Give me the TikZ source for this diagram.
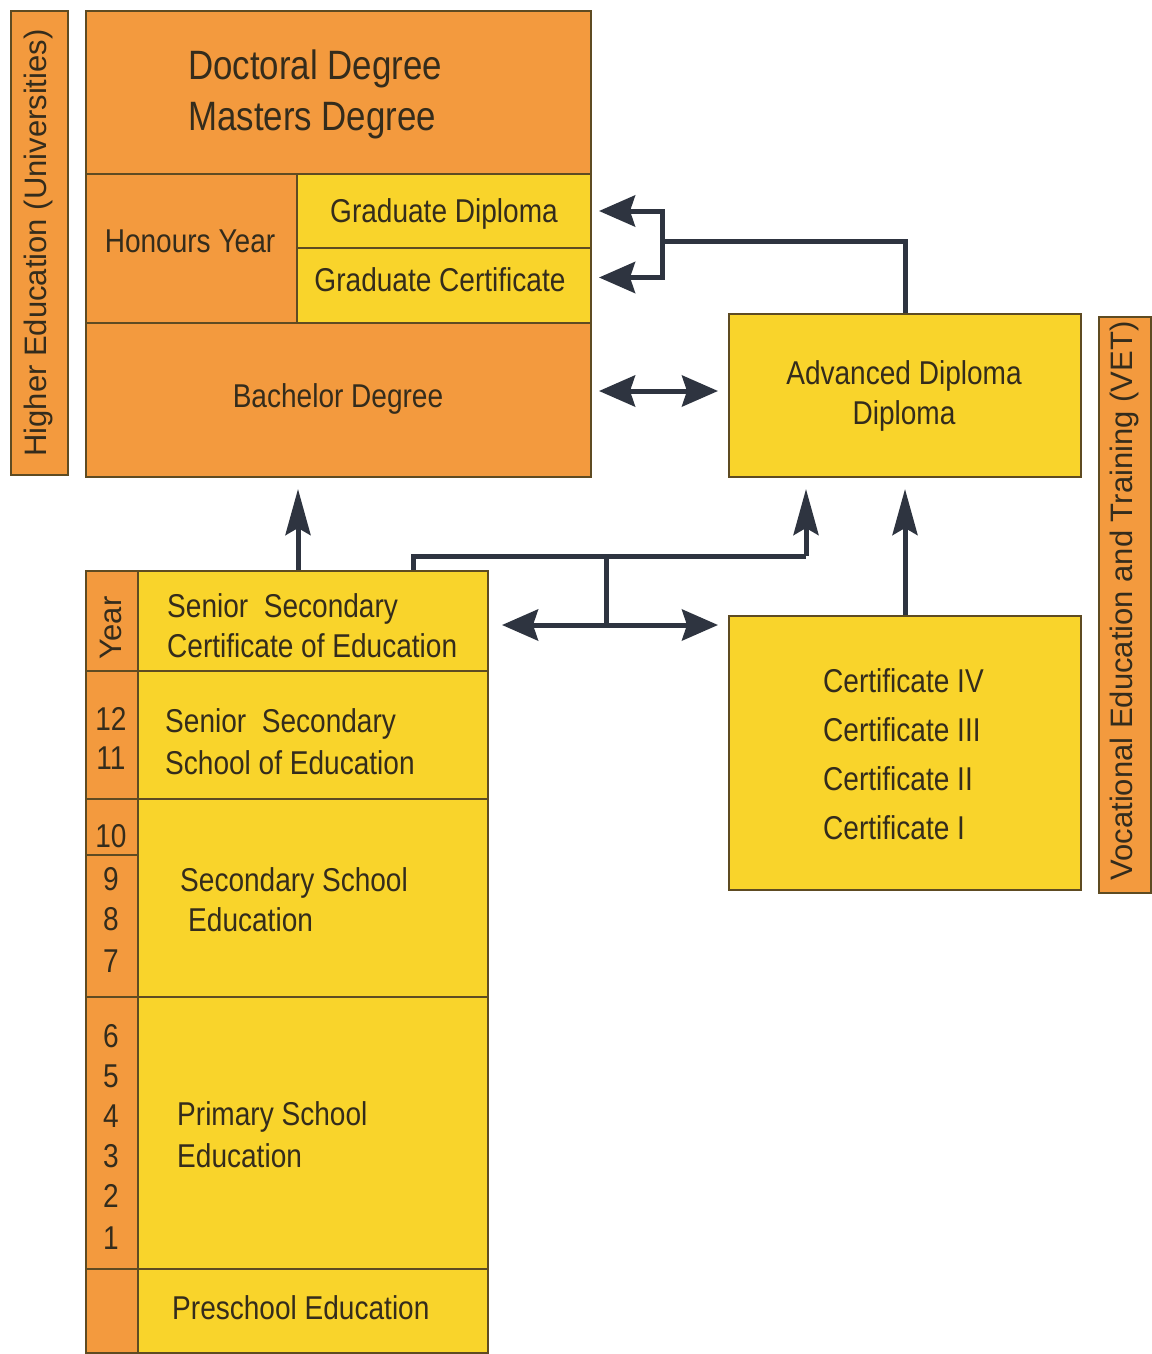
\documentclass[tikz,border=0pt]{standalone}
\usepackage{fontspec}
\setmainfont{Liberation Sans}[FakeStretch=0.85]
\newfontfamily\sidefont{Liberation Sans}
\usetikzlibrary{arrows.meta}
\definecolor{orangefill}{HTML}{F39A3E}
\definecolor{yellowfill}{HTML}{F9D42B}
\definecolor{edge}{HTML}{5E4B22}
\definecolor{linec}{HTML}{2E3440}
\definecolor{ink}{HTML}{342C1C}

\begin{document}
\begin{tikzpicture}[x=1pt,y=-1pt,
  box/.style={draw=edge, line width=2pt, inner sep=0pt, anchor=north west},
  ora/.style={box, fill=orangefill},
  yel/.style={box, fill=yellowfill},
  txt/.style={text=ink, inner sep=0pt, font=\fontsize{33}{40}\selectfont},
  lft/.style={txt, anchor=base west},
  ctr/.style={txt, anchor=base},
  side/.style={text=ink, inner sep=0pt, rotate=90, font=\sidefont\fontsize{31}{36}\selectfont},
  conn/.style={draw=linec, line width=5pt},
  harr/.style={conn, -{Stealth[length=36pt,width=31pt,inset=5pt]}},
  varr/.style={conn, -{Stealth[length=46pt,width=25pt,inset=7pt]}},
  darr/.style={conn, {Stealth[length=36pt,width=31pt,inset=5pt]}-{Stealth[length=36pt,width=31pt,inset=5pt]}},
]
\useasboundingbox (0,0) rectangle (1151,1354);
\fill[white] (0,0) rectangle (1151,1354);

% ---- higher education block ----
\node[ora, minimum width=57pt, minimum height=464pt] (hel) at (10,10) {};
\node[ora, minimum width=505pt, minimum height=163pt] (doc) at (85,10) {};
\node[ora, minimum width=211pt, minimum height=149pt] (hon) at (85,173) {};
\node[yel, minimum width=294pt, minimum height=74pt] (gdip) at (296,173) {};
\node[yel, minimum width=294pt, minimum height=75pt] (gcert) at (296,247) {};
\node[ora, minimum width=505pt, minimum height=154pt] (bach) at (85,322) {};

\node[side] (helt) at (38,243) {Higher Education (Universities)};
\node[lft, font=\fontsize{41}{50}\selectfont] (doct) at (188,80) {Doctoral Degree};
\node[lft, font=\fontsize{41}{50}\selectfont] (mast) at (188,130) {Masters Degree};
\node[ctr] (hont) at (190,252) {Honours Year};
\node[ctr] (gdipt) at (444,222) {Graduate Diploma};
\node[ctr] (gcertt) at (440,291) {Graduate Certificate};
\node[ctr] (bacht) at (338,407) {Bachelor Degree};

% ---- vocational block ----
\node[yel, minimum width=352pt, minimum height=163pt] (adv) at (728,313) {};
\node[yel, minimum width=352pt, minimum height=274pt] (cert) at (728,615) {};
\node[ora, minimum width=52pt, minimum height=576pt] (vet) at (1098,316) {};

\node[ctr] (advt1) at (904,384) {Advanced Diploma};
\node[ctr] (advt2) at (904,424) {Diploma};
\foreach \t/\y [count=\i] in {IV/692, III/741, II/790, I/839}
  \node[lft] (cert\i) at (823,\y) {Certificate \t};
\node[side] (vett) at (1124,601) {Vocational Education and Training (VET)};

% ---- school column ----
\node[ora, minimum width=52pt, minimum height=100pt] (yA) at (85,570) {};
\node[yel, minimum width=350pt, minimum height=100pt] (sscert) at (137,570) {};
\node[ora, minimum width=52pt, minimum height=128pt] (yB) at (85,670) {};
\node[yel, minimum width=350pt, minimum height=128pt] (sssch) at (137,670) {};
\node[ora, minimum width=52pt, minimum height=198pt] (yC) at (85,798) {};
\node[yel, minimum width=350pt, minimum height=198pt] (sec) at (137,798) {};
\node[ora, minimum width=52pt, minimum height=272pt] (yD) at (85,996) {};
\node[yel, minimum width=350pt, minimum height=272pt] (prim) at (137,996) {};
\node[ora, minimum width=52pt, minimum height=84pt] (yE) at (85,1268) {};
\node[yel, minimum width=350pt, minimum height=84pt] (pre) at (137,1268) {};
\coordinate (yrule) at (0,855);
\draw[edge, line width=2pt] (yC.west |- yrule) -- (yC.east |- yrule);

\node[side] (yeart) at (111,628) {Year};
\foreach \n/\y in {12/730, 11/769, 10/847, 9/890, 8/930, 7/972,
                   6/1047, 5/1087, 4/1127, 3/1167, 2/1207, 1/1249}
  \node[ctr] (yr\n) at (111,\y) {\n};

\node[lft] (ss1) at (167,617) {Senior\ \ Secondary};
\node[lft] (ss2) at (167,657) {Certificate of Education};
\node[lft] (sh1) at (165,732) {Senior\ \ Secondary};
\node[lft] (sh2) at (165,774) {School of Education};
\node[lft] (se1) at (180,891) {Secondary School};
\node[lft] (se2) at (188,931) {Education};
\node[lft] (pr1) at (177,1125) {Primary School};
\node[lft] (pr2) at (177,1167) {Education};
\node[lft] (pst) at (172,1319) {Preschool Education};

% ---- connectors ----
\coordinate (jtop) at (662,241);
\draw[conn] (adv.north) |- (jtop);
\draw[harr, shorten >=7pt] (jtop) |- (gdip.east);
\draw[harr, shorten >=7pt] (jtop) |- ([yshift=8pt]gcert.east);
\draw[darr, shorten <=7pt, shorten >=10pt]
  ([yshift=9pt]bach.east) -- ([yshift=9pt]bach.east -| adv.west);

\draw[varr, shorten >=11pt] (sscert.north -| hon.east) -- (hon.east |- bach.south);

\coordinate (ja) at (413,556);
\coordinate (jb) at (806,556);
\coordinate (jc) at (606,556);
\coordinate (jd) at (606,625);
\draw[conn] (ja |- sscert.north) -- (ja) -- (jb);
\draw[varr, shorten >=11pt] (jb) -- (jb |- adv.south);
\draw[conn] (jc) -- (jd);
\draw[darr, shorten <=13pt, shorten >=10pt] (jd -| sscert.east) -- (jd -| cert.west);
\draw[varr, shorten >=11pt] (cert.north) -- (cert.north |- adv.south);
\end{tikzpicture}
\end{document}
